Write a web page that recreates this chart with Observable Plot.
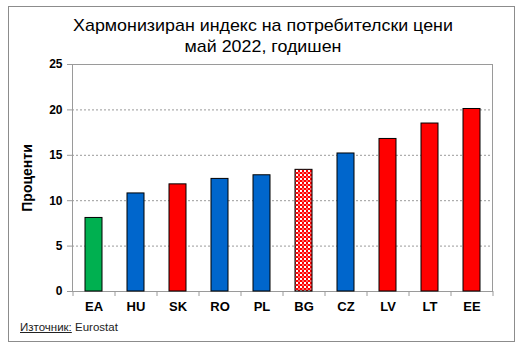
<!DOCTYPE html>
<html><head><meta charset="utf-8">
<script src="https://cdn.jsdelivr.net/npm/d3@7"></script>
<script src="https://cdn.jsdelivr.net/npm/@observablehq/plot@0.6"></script>
<style>
html,body{margin:0;padding:0;background:#fff;font-family:"Liberation Sans",Arial,sans-serif;}
#wrap{position:relative;width:532px;height:348px;overflow:hidden;}
#border{position:absolute;left:8px;top:6px;width:505px;height:334px;border:1.5px solid #8c8c8c;}
#title{position:absolute;left:0;top:15px;width:526px;text-align:center;font-size:17px;line-height:21px;color:#000;transform:scaleX(1.05);transform-origin:263px 0;}
#chart{position:absolute;left:0;top:0;}
#src{position:absolute;left:20px;top:321px;font-size:11.5px;color:#222;}
#src u{text-decoration:underline;}
</style></head>
<body>
<div id="wrap">
  <div id="border"></div>
  <div id="chart"></div>
  <div id="title">Хармонизиран индекс на потребителски цени<br>май 2022, годишен</div>
  <div id="src"><u>Източник:</u> Eurostat</div>
</div>
<script>
const countries = ["EA","HU","SK","RO","PL","BG","CZ","LV","LT","EE"];
const values = [8.1, 10.8, 11.8, 12.4, 12.8, 13.4, 15.2, 16.8, 18.5, 20.1];
const groups = ["euro area","non-euro","euro","non-euro","non-euro","Bulgaria","non-euro","euro","euro","euro"];
const yTicks = [0, 5, 10, 15, 20, 25];

const data = countries.map((c, i) => ({country: c, value: values[i], group: groups[i]}));

const chart = Plot.plot({
  width: 532,
  height: 348,
  marginTop: 64,
  marginBottom: 57,
  marginLeft: 72,
  marginRight: 40,
  style: {fontFamily: "'Liberation Sans', Arial, sans-serif", background: "transparent", color: "#000"},
  x: {domain: countries, paddingInner: 0.6, paddingOuter: 0.3},
  y: {domain: [0, 25]},
  color: {type: "ordinal", domain: ["euro area","non-euro","euro","Bulgaria"], range: ["#00B050","#0066CC","#FF0000","url(#chk)"]},
  marks: [
    Plot.gridY(yTicks.filter(t => t > 0 && t < 25), {stroke: "#9a9a9a", strokeOpacity: 1, strokeDasharray: "2,2"}),
    Plot.frame({stroke: "#9a9a9a"}),
    Plot.barY(data, {x: "country", y: "value", fill: "group", stroke: "#000", strokeWidth: 1}),
    Plot.ruleX(countries, {x: d => d, dx: -21, y1: 0, y2: 0, insetBottom: -5, stroke: "#9a9a9a"}),
    Plot.ruleX(countries.slice(-1), {x: d => d, dx: 21, y1: 0, y2: 0, insetBottom: -5, stroke: "#9a9a9a"}),
    Plot.axisY({ticks: yTicks, tickSize: 5, tickPadding: 5, stroke: "#9a9a9a", fill: "#000", fontSize: 12, fontWeight: "bold", label: null}),
    Plot.text(["Проценти"], {frameAnchor: "left", textAnchor: "middle", dx: -45, rotate: -90, fontSize: 14, fontWeight: "bold", fill: "#000"}),
    Plot.axisX({tickSize: 0, tickPadding: 10, fontSize: 13, fontWeight: "bold", fill: "#000", label: null})
  ]
});

const svg = d3.select(chart);
const defs = svg.insert("defs", ":first-child");
const p = defs.append("pattern").attr("id", "chk").attr("width", 4).attr("height", 4).attr("patternUnits", "userSpaceOnUse");
p.append("rect").attr("width", 4).attr("height", 4).attr("fill", "#ffffff");
p.append("rect").attr("x", 0).attr("y", 0).attr("width", 2).attr("height", 2).attr("fill", "#ff0000");
p.append("rect").attr("x", 2).attr("y", 2).attr("width", 2).attr("height", 2).attr("fill", "#ff0000");
p.append("rect").attr("x", 2).attr("y", 0).attr("width", 2).attr("height", 2).attr("fill", "#ff6a6a");
document.getElementById("chart").appendChild(chart);
</script>
</body></html>
